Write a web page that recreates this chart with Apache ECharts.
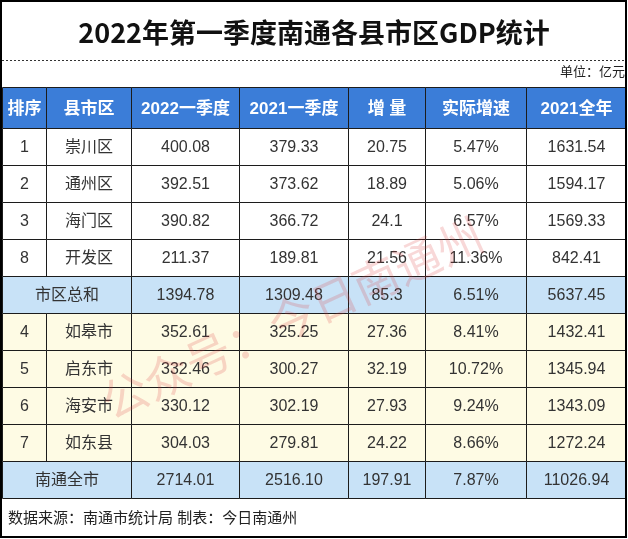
<!DOCTYPE html>
<html>
<head>
<meta charset="utf-8">
<script src="https://cdn.jsdelivr.net/npm/echarts@6/dist/echarts.min.js"></script>
<style>
html,body{margin:0;padding:0;background:#fff;}
#c{width:628px;height:539px;}
</style>
</head>
<body>
<div id="c"></div>
<script>
// ---- data ----
const titleText = '2022年第一季度南通各县市区GDP统计';
const unitText = '单位：亿元';
const sourceText = '数据来源：南通市统计局 制表：今日南通州';
const watermarkText = '公众号：今日南通州';
const headers = ['排序', '县市区', '2022一季度', '2021一季度', '增 量', '实际增速', '2021全年'];
const ranks = ['1', '2', '3', '8', '', '4', '5', '6', '7', ''];
const districts = ['崇川区', '通州区', '海门区', '开发区', '市区总和', '如皋市', '启东市', '海安市', '如东县', '南通全市'];
const q1of2022 = [400.08, 392.51, 390.82, 211.37, 1394.78, 352.61, 332.46, 330.12, 304.03, 2714.01];
const q1of2021 = [379.33, 373.62, 366.72, 189.81, 1309.48, 325.25, 300.27, 302.19, 279.81, 2516.10];
const increase = [20.75, 18.89, 24.1, 21.56, 85.3, 27.36, 32.19, 27.93, 24.22, 197.91];
const growthPct = [5.47, 5.06, 6.57, 11.36, 6.51, 8.41, 10.72, 9.24, 8.66, 7.87];
const fullYear2021 = [1631.54, 1594.17, 1569.33, 842.41, 5637.45, 1432.41, 1345.94, 1343.09, 1272.24, 11026.94];
const rowKinds = ['plain', 'plain', 'plain', 'plain', 'sum', 'cream', 'cream', 'cream', 'cream', 'sum'];

// ---- layout / style ----
const colWidths = [44, 85, 108, 109, 77, 101, 100];
const headerSpan = 1.1;
const fills = { header: '#3b7dd8', plain: '#ffffff', sum: '#c8e2f7', cream: '#fefbe4' };
const FONT = '"Liberation Sans", "Noto Sans CJK SC", sans-serif';

const edges = [0];
colWidths.forEach(w => edges.push(edges[edges.length - 1] + w));

const cells = [];
headers.forEach((h, c) => cells.push([edges[c], edges[c + 1], -headerSpan, 0, h, 'header']));
districts.forEach((d, r) => {
  const kind = rowKinds[r];
  const vals = [
    ranks[r], d,
    q1of2022[r].toFixed(2), q1of2021[r].toFixed(2), String(increase[r]),
    growthPct[r].toFixed(2) + '%', fullYear2021[r].toFixed(2)
  ];
  if (kind === 'sum') {
    cells.push([edges[0], edges[2], r, r + 1, d, kind]);
    for (let c = 2; c < 7; c++) cells.push([edges[c], edges[c + 1], r, r + 1, vals[c], kind]);
  } else {
    for (let c = 0; c < 7; c++) cells.push([edges[c], edges[c + 1], r, r + 1, vals[c], kind]);
  }
});

const chart = echarts.init(document.getElementById('c'), null, { renderer: 'canvas' });
chart.setOption({
  backgroundColor: '#ffffff',
  animation: false,
  title: {
    text: titleText, left: 'center', top: 14,
    textStyle: { fontSize: 27, fontWeight: 'bold', color: '#111', fontFamily: '"Noto Sans CJK SC", sans-serif' }
  },
  grid: { left: 2, right: 2, top: 87, bottom: 41 },
  xAxis: { type: 'value', min: 0, max: edges[edges.length - 1], show: false },
  yAxis: { type: 'value', inverse: true, min: -headerSpan, max: districts.length, show: false },
  series: [{
    type: 'custom',
    data: cells,
    renderItem: function (params, api) {
      const p0 = api.coord([api.value(0), api.value(2)]);
      const p1 = api.coord([api.value(1), api.value(3)]);
      const kind = cells[params.dataIndex][5];
      const text = cells[params.dataIndex][4];
      const x0 = Math.round(p0[0]) + 0.5, y0 = Math.round(p0[1]) + 0.5;
      const x1 = Math.round(p1[0]) + 0.5, y1 = Math.round(p1[1]) + 0.5;
      const isHeader = kind === 'header';
      return {
        type: 'group',
        children: [
          { type: 'rect', shape: { x: x0, y: y0, width: x1 - x0, height: y1 - y0 },
            style: { fill: fills[kind], stroke: '#1c1c1c', lineWidth: 1 } },
          { type: 'text', x: (x0 + x1) / 2, y: (y0 + y1) / 2 + 1,
            style: { text: text, align: 'center', verticalAlign: 'middle',
              fill: isHeader ? '#ffffff' : '#333333',
              font: (isHeader ? 'bold 17px ' : '16px ') + FONT } }
        ]
      };
    }
  }],
  graphic: [
    { type: 'line', shape: { x1: 2, y1: 60.5, x2: 626, y2: 60.5 },
      style: { stroke: '#333', lineWidth: 1, lineDash: [2, 2] } },
    { type: 'text', x: 625, y: 72,
      style: { text: unitText, align: 'right', verticalAlign: 'middle', fill: '#222', font: '13px ' + FONT } },
    { type: 'text', x: 8, y: 519,
      style: { text: sourceText, align: 'left', verticalAlign: 'middle', fill: '#222', font: '15px ' + FONT } },
    { type: 'text', x: 292, y: 318, rotation: 0.43, z: 100,
      style: { text: watermarkText, align: 'center', verticalAlign: 'middle',
        fill: 'rgba(220,60,60,0.2)', font: '46px "Noto Sans CJK SC", sans-serif' } },
    { type: 'rect', shape: { x: 1, y: 1, width: 625, height: 536 }, z: 100,
      style: { fill: null, stroke: '#000', lineWidth: 2 } }
  ]
});
</script>
</body>
</html>
